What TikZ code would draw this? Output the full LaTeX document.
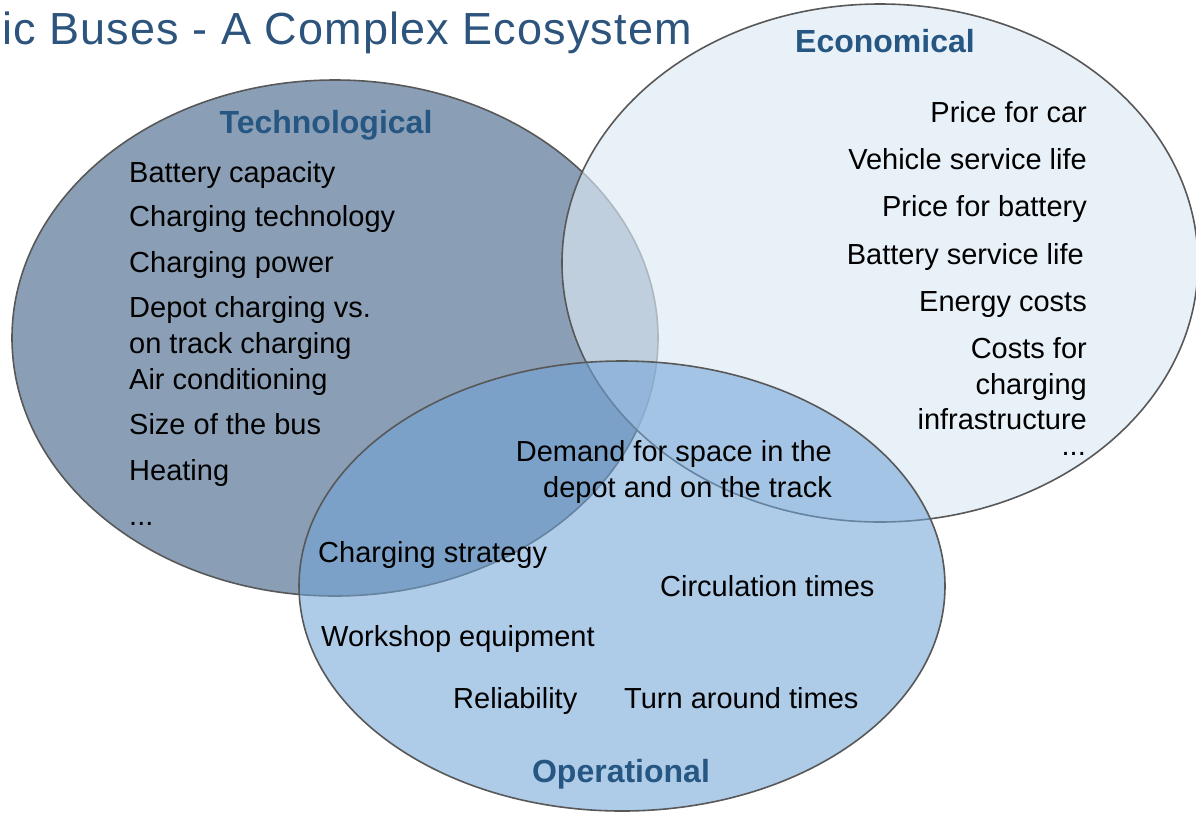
\documentclass[tikz,border=0pt]{standalone}
\usepackage{fontspec}
\setmainfont{Liberation Sans}
\usepackage{xcolor}
\usetikzlibrary{positioning}

\definecolor{techfill}{RGB}{138,159,182}
\definecolor{econfill}{RGB}{220,232,244}
\definecolor{operfill}{RGB}{113,164,215}
\definecolor{rim}{RGB}{88,88,88}
\definecolor{headblue}{RGB}{38,86,130}
\definecolor{titleblue}{RGB}{44,84,124}

\begin{document}
\begin{tikzpicture}[x=1pt,y=-1pt,
  rim/.style={draw=rim,line width=1.6pt},
  head/.style={font=\bfseries\fontsize{32}{38}\selectfont,text=headblue,inner sep=0pt},
  item/.style={font=\fontsize{29}{35}\selectfont,inner sep=0pt},
  dots/.style={item,text height=4pt,text depth=0pt}]
\useasboundingbox (0,0) rectangle (1196,812);

% the three areas, later ones see-through
\filldraw[rim,fill=techfill] (335,338) ellipse [x radius=323pt,y radius=258pt];
\filldraw[rim,fill=econfill,fill opacity=.66] (880,263) ellipse [x radius=318pt,y radius=259pt];
\filldraw[rim,fill=operfill,fill opacity=.57] (622,586) ellipse [x radius=323pt,y radius=225pt];

\node[anchor=base west,inner sep=0pt,text=titleblue,font=\fontsize{45}{54}\selectfont\addfontfeatures{LetterSpace=2.5}] (title) at (2,44) {ic Buses - A Complex Ecosystem};

% headings
\node[head,anchor=base] (tech) at (326,133) {Technological};
\node[head,anchor=base] (econ) at (885,52) {Economical};
\node[head,anchor=base] (oper) at (621,782) {Operational};

% technological
\node[item,anchor=base west] (bcap) at (129,182) {Battery capacity};
\node[item,anchor=base west] (ctech) at (129,226) {Charging technology};
\node[item,anchor=base west] (cpow) at (129,272) {Charging power};
\node[item,anchor=base west] (depot) at (129,317) {Depot charging vs.};
\node[item,anchor=base west] (track) at (129,353) {on track charging};
\node[item,anchor=base west] (aircon) at (129,389) {Air conditioning};
\node[item,anchor=base west] (bsize) at (129,434) {Size of the bus};
\node[item,anchor=base west] (heat) at (129,480) {Heating};
\node[dots,anchor=base west] (tdots) at (129,525) {...};

% economical
\node[item,anchor=base east] (pcar) at (1087,122) {Price for car};
\node[item,anchor=base east] (vlife) at (1087,169) {Vehicle service life};
\node[item,anchor=base east] (pbat) at (1087,216) {Price for battery};
\node[item,anchor=base east] (blife) at (1084,264) {Battery service life};
\node[item,anchor=base east] (ecost) at (1087,311) {Energy costs};
\node[item,anchor=base east] (ccost) at (1087,358) {Costs for};
\node[item,anchor=base east] (cchg) at (1087,394) {charging};
\node[item,anchor=base east] (cinf) at (1087,429) {infrastructure};
\node[dots,anchor=base east] (edots) at (1086,455) {...};

% operational
\node[item,anchor=base east] (space) at (832,461) {Demand for space in the};
\node[item,anchor=base east] (spot) at (832,497) {depot and on the track};
\node[item,anchor=base west] (cstrat) at (318,562) {Charging strategy};
\node[item,anchor=base west] (circ) at (660,596) {Circulation times};
\node[item,anchor=base west] (shop) at (321,646) {Workshop equipment};
\node[item,anchor=base west] (rely) at (453,708) {Reliability};
\node[item,anchor=base west] (turn) at (624,708) {Turn around times};
\end{tikzpicture}
\end{document}
